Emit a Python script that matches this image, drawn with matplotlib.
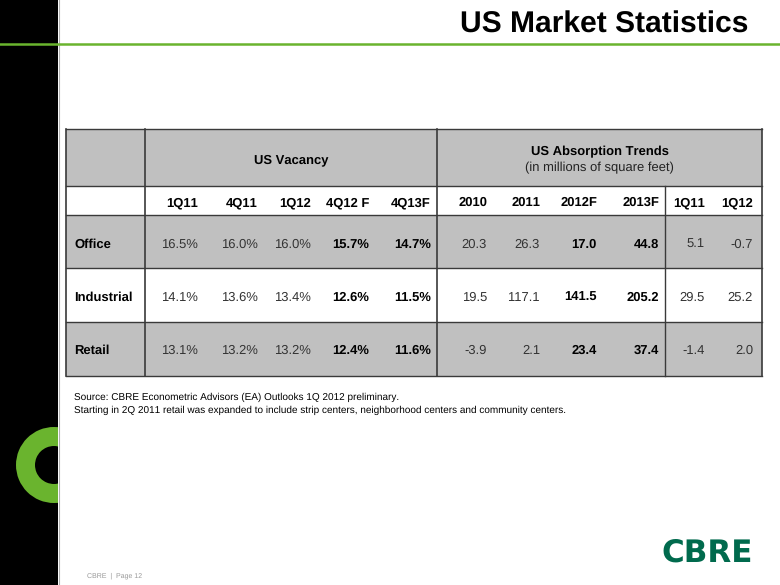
import matplotlib
matplotlib.use("Agg")
import matplotlib.pyplot as plt
from matplotlib.patches import Rectangle, Wedge

plt.rcParams['font.family'] = ['Liberation Sans', 'DejaVu Sans']
plt.rcParams['text.hinting'] = 'no_hinting'
plt.rcParams['text.hinting_factor'] = 1

# ---- data ----
title = "US Market Statistics"
vac_header = "US Vacancy"
abs_header = "US Absorption Trends"
abs_sub = "(in millions of square feet)"
vac_periods = ["1Q11", "4Q11", "1Q12", "4Q12 F", "4Q13F"]
abs_periods = ["2010", "2011", "2012F", "2013F", "1Q11", "1Q12"]
sectors = ["Office", "Industrial", "Retail"]
vac_values = [
    ["16.5%", "16.0%", "16.0%", "15.7%", "14.7%"],
    ["14.1%", "13.6%", "13.4%", "12.6%", "11.5%"],
    ["13.1%", "13.2%", "13.2%", "12.4%", "11.6%"],
]
abs_values = [
    ["20.3", "26.3", "17.0", "44.8", "5.1", "-0.7"],
    ["19.5", "117.1", "141.5", "205.2", "29.5", "25.2"],
    ["-3.9", "2.1", "23.4", "37.4", "-1.4", "2.0"],
]
vac_bold = [False, False, False, True, True]
abs_bold = [False, False, True, True, False, False]
notes = ["Source: CBRE Econometric Advisors (EA) Outlooks 1Q 2012 preliminary.",
         "Starting in 2Q 2011 retail was expanded to include strip centers, neighborhood centers and community centers."]
footer = "CBRE  |  Page 12"
logo = "CBRE"

# ---- layout ----
W, H = 780, 585
fig = plt.figure(figsize=(7.8, 5.85), dpi=100)
ax = fig.add_axes([0, 0, 1, 1])
ax.set_xlim(0, W)
ax.set_ylim(H, 0)
ax.axis('off')

GREEN = '#6ab42e'
GREY = '#c0c0c0'
LINE = '#3a3a3a'

# black side panel
panel = Rectangle((0, 0), 58, H, facecolor='black', edgecolor='none', zorder=1)
ax.add_patch(panel)
ax.plot([58.5, 58.5], [0, H], color='#b0b0b0', lw=0.8, zorder=2)
# green C ring clipped to panel
ring = Wedge((54, 465), 38, 0, 360, width=19, facecolor=GREEN, edgecolor='none', zorder=2)
ax.add_patch(ring)
ring.set_clip_path(panel)

# title and green rule
ax.plot([0, W], [43.5, 43.5], color=GREEN, lw=1.8, zorder=3)
ax.text(748, 33, title, ha='right', va='baseline', fontsize=21.5, fontweight='bold', color='black')

# table geometry
x0, x1, x2, x3, xend = 66, 145, 437, 665, 762
rows_y = [129, 186, 215, 268, 322, 376]
fills = [GREY, 'white', GREY, 'white', GREY]
for i, f in enumerate(fills):
    ax.add_patch(Rectangle((x0, rows_y[i]), xend - x0, rows_y[i + 1] - rows_y[i],
                           facecolor=f, edgecolor='none', zorder=1))
for y in rows_y:
    ax.plot([x0, xend], [y, y], color=LINE, lw=1.0, zorder=3)
for x in [x0, x1, x2, xend]:
    ax.plot([x, x], [rows_y[0], rows_y[-1]], color=LINE, lw=1.2, zorder=3)
ax.plot([x3, x3], [rows_y[1], rows_y[-1]], color=LINE, lw=1.0, zorder=3)

FS = 9
OFF = 5  # baseline offset from visual centre
ax.text((x1 + x2) / 2, 158 + OFF, vac_header, ha='center', va='baseline', fontsize=FS, fontweight='bold')
ax.text((x2 + xend) / 2, 150 + OFF, abs_header, ha='center', va='baseline', fontsize=FS, fontweight='bold')
ax.text((x2 + xend) / 2, 166 + OFF, abs_sub, ha='center', va='baseline', fontsize=FS, color='#222222')

vac_x = [198, 258, 311, 369, 431]
abs_x = [487, 540, 597, 659, 705, 753]
hy = 201 + OFF
for lab, x in zip(vac_periods, vac_x):
    ax.text(x, hy, lab, ha='right', va='baseline', fontsize=FS, fontweight='bold')
for lab, x in zip(abs_periods, abs_x):
    ax.text(x, hy, lab, ha='right', va='baseline', fontsize=FS, fontweight='bold')

row_cy = [243, 296, 349]
for r, name in enumerate(sectors):
    by = row_cy[r] + OFF
    ax.text(74, by, name, ha='left', va='baseline', fontsize=FS, fontweight='bold')
    for c, x in enumerate(vac_x):
        b = vac_bold[c]
        ax.text(x, by, vac_values[r][c], ha='right', va='baseline', fontsize=FS,
                fontweight='bold' if b else 'normal', color='black' if b else '#333333')
    for c, x in enumerate(abs_x):
        b = abs_bold[c]
        ax.text(x, by, abs_values[r][c], ha='right', va='baseline', fontsize=FS,
                fontweight='bold' if b else 'normal', color='black' if b else '#333333')

# notes
ax.text(74, 400, notes[0], ha='left', va='baseline', fontsize=7.2, color='black')
ax.text(74, 413, notes[1], ha='left', va='baseline', fontsize=7.2, color='black')

# footer
ax.text(87, 578, footer, ha='left', va='baseline', fontsize=5.2, color='#999999')

# CBRE logo
ax.text(707.5, 562, logo, ha='center', va='baseline', fontsize=22.5, fontweight='bold',
        color='#006a4d', family='DejaVu Sans')

fig.savefig('out.png', dpi=100)
